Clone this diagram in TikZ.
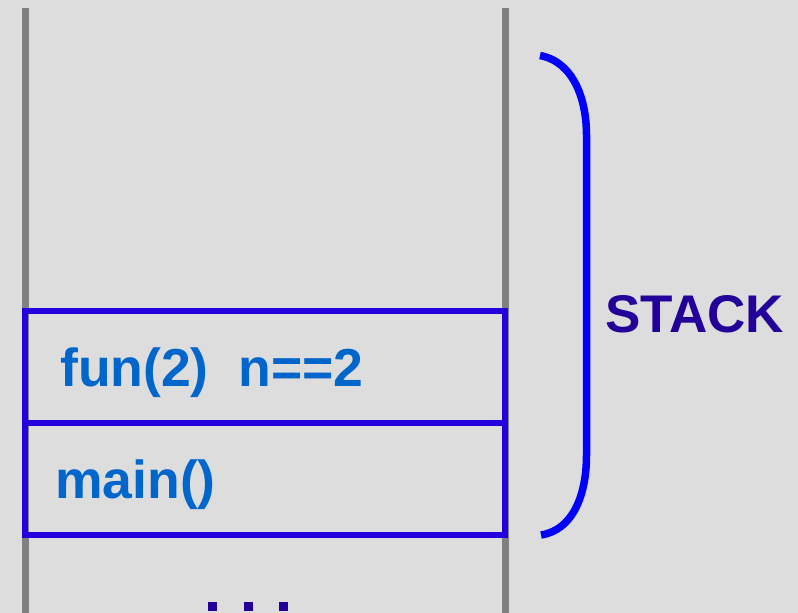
\documentclass[tikz,border=0pt]{standalone}
\usepackage{fontspec}
\setmainfont{Liberation Sans}
\usepackage{xcolor}
\usetikzlibrary{positioning}
\definecolor{bg}{HTML}{DDDDDD}
\definecolor{wallgray}{HTML}{808080}
\definecolor{frame}{HTML}{2200DD}
\definecolor{call}{HTML}{0066CC}
\definecolor{bracecol}{HTML}{0000FF}
\definecolor{stacklab}{HTML}{220099}
\tikzset{
  wall/.style={draw=wallgray, line width=7pt},
  framebox/.style={draw=frame, line width=6.5pt, minimum width=480pt, minimum height=112pt, inner sep=0pt},
  calltext/.style={text=call, font=\fontsize{53.5}{60}\selectfont\bfseries, inner sep=0pt, anchor=base west},
  stacktext/.style={text=stacklab, font=\fontsize{53}{60}\selectfont\bfseries, inner sep=0pt, anchor=base west},
  stackbrace/.style={draw=bracecol, line width=7.5pt},
  dotmark/.style={fill=stacklab, minimum size=9pt, inner sep=0pt},
}
\begin{document}
\begin{tikzpicture}[x=1pt, y=-1pt]
  \useasboundingbox[fill=bg] (0,0) rectangle (798,613);

  % stack walls
  \coordinate (lefttop) at (25,8);
  \coordinate (leftbot) at (25,613);
  \coordinate (righttop) at (505,8);
  \coordinate (rightbot) at (505,613);
  \draw[wall] (lefttop) -- (leftbot);
  \draw[wall] (righttop) -- (rightbot);

  % frames
  \node[framebox] (funbox) at (265,367) {};
  \node[framebox] (mainbox) at (265,479) {};
  \node[calltext] (funtext) at (60,386) {fun(2)\ \ n==2};
  \node[calltext] (maintext) at (55,498) {main()};

  % brace and label
  \coordinate (bracetop) at (540,55.5);
  \coordinate (bracebot) at (541,535);
  \draw[stackbrace] (bracetop) .. controls (574,62) and (586.5,100) .. (586.5,135)
    -- (586.5,455) .. controls (586.5,495) and (573,530) .. (bracebot);
  \node[stacktext] (stack) at (605,332) {STACK};

  % dots below
  \foreach \x [count=\i] in {212.5,248.5,283.5}
    \node[dotmark] (dot\i) at (\x,606.5) {};
\end{tikzpicture}
\end{document}
